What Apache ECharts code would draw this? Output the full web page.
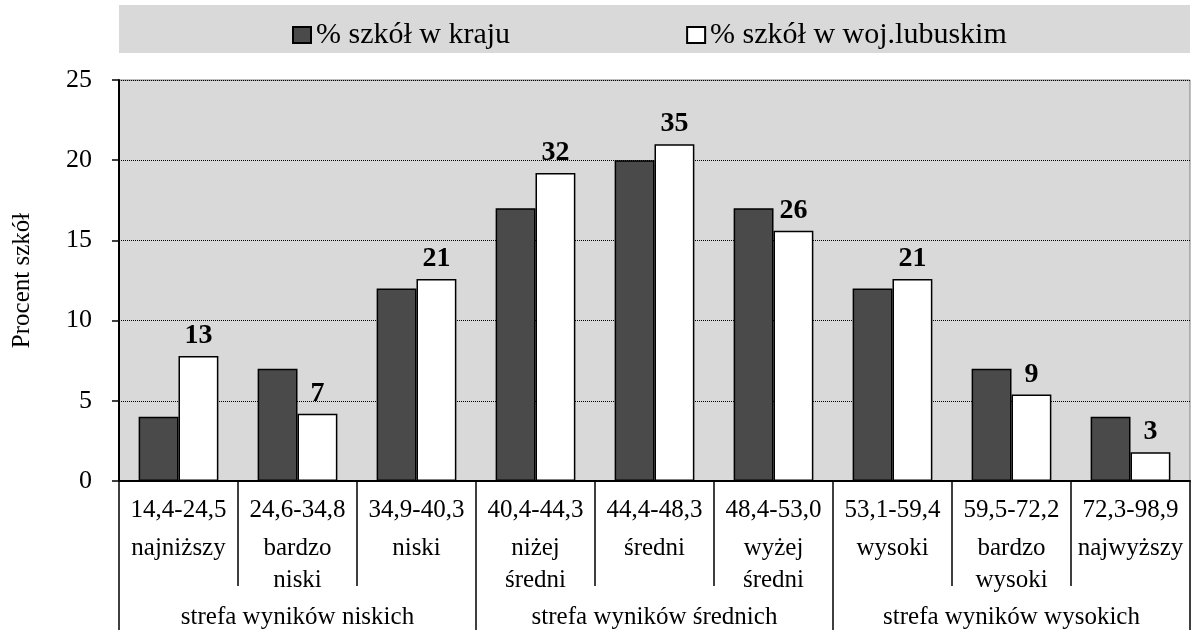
<!DOCTYPE html>
<html>
<head>
<meta charset="utf-8">
<script src="https://cdn.jsdelivr.net/npm/echarts@6/dist/echarts.min.js"></script>
<style>
  html, body { margin: 0; padding: 0; background: #fff; }
  #main { width: 1195px; height: 630px; }
</style>
</head>
<body>
<div id="main"></div>
<script>
// przedziały wyników i nazwy staninów
var ranges = ["14,4-24,5", "24,6-34,8", "34,9-40,3", "40,4-44,3", "44,4-48,3",
  "48,4-53,0", "53,1-59,4", "59,5-72,2", "72,3-98,9"];
var names = ["najniższy", "bardzo\nniski", "niski", "niżej\nśredni", "średni",
  "wyżej\nśredni", "wysoki", "bardzo\nwysoki", "najwyższy"];
var zones = ["strefa wyników niskich", "strefa wyników średnich", "strefa wyników wysokich"];

var kraj = [4, 7, 12, 17, 20, 17, 12, 7, 4];
var lubuskie = [7.8, 4.2, 12.6, 19.2, 21.0, 15.6, 12.6, 5.4, 1.8];
var lubuskieCount = [13, 7, 21, 32, 35, 26, 21, 9, 3];

var yTicks = [0, 5, 10, 15, 20, 25];

var serif = '"Liberation Serif", "Times New Roman", serif';

var myChart = echarts.init(document.getElementById("main"));

var option = {
  animation: false,
  backgroundColor: "#fff",
  textStyle: { fontFamily: serif, color: "#000" },
  graphic: [
    {
      type: "rect",
      z: -10,
      shape: { x: 119, y: 5, width: 1071, height: 48 },
      style: { fill: "#d9d9d9" }
    }
  ],
  legend: {
    left: 287,
    top: 15,
    itemGap: 176,
    itemWidth: 18,
    itemHeight: 16,
    icon: "rect",
    textStyle: { fontFamily: serif, fontSize: 30, color: "#000" },
    data: ["% szkół w kraju", "% szkół w woj.lubuskim"]
  },
  grid: {
    left: 119,
    right: 5,
    top: 80,
    bottom: 149,
    show: true,
    backgroundColor: "#d9d9d9",
    borderColor: "#808080",
    borderWidth: 1
  },
  xAxis: [
    {
      type: "category",
      data: ranges,
      position: "bottom",
      axisLine: { show: true, lineStyle: { color: "#000", width: 2 } },
      axisTick: { show: true, length: 105, interval: 0, lineStyle: { color: "#000", width: 1.5 } },
      axisLabel: {
        interval: 0,
        margin: 7,
        formatter: function (value, idx) {
          var parts = names[idx].split("\n").map(function (s) { return "{n|" + s + "}"; });
          return "{r|" + value + "}\n" + parts.join("\n");
        },
        rich: {
          r: { fontFamily: serif, fontSize: 25, lineHeight: 44, color: "#000" },
          n: { fontFamily: serif, fontSize: 25, lineHeight: 32, color: "#000" }
        }
      },
      splitLine: { show: false }
    },
    {
      type: "category",
      data: zones,
      position: "bottom",
      offset: 105,
      axisLine: { show: false },
      axisTick: { show: true, length: 44, interval: 0, lineStyle: { color: "#000", width: 1.5 } },
      axisLabel: {
        interval: 0,
        margin: 19,
        fontFamily: serif,
        fontSize: 25,
        lineHeight: 25,
        color: "#000"
      }
    }
  ],
  yAxis: {
    type: "value",
    min: 0,
    max: 25,
    interval: 5,
    name: "Procent szkół",
    nameLocation: "middle",
    nameGap: 84,
    nameTextStyle: { fontFamily: serif, fontSize: 25, color: "#000" },
    axisLine: { show: true, lineStyle: { color: "#000", width: 2 } },
    axisTick: { show: true, length: 7, lineStyle: { color: "#000", width: 1.5 } },
    axisLabel: {
      margin: 27,
      fontFamily: serif,
      fontSize: 26,
      color: "#000",
      customValues: yTicks
    },
    splitLine: { show: true, lineStyle: { color: "#000", type: "dotted", width: 1 } }
  },
  series: [
    {
      name: "% szkół w kraju",
      type: "bar",
      data: kraj,
      barGap: "0%",
      barCategoryGap: "33%",
      itemStyle: { color: "#4a4a4a", borderColor: "#000", borderWidth: 1.5 }
    },
    {
      name: "% szkół w woj.lubuskim",
      type: "bar",
      data: lubuskie,
      itemStyle: { color: "#ffffff", borderColor: "#000", borderWidth: 1.5 },
      label: {
        show: true,
        position: "top",
        distance: 6,
        fontFamily: serif,
        fontSize: 28,
        fontWeight: "bold",
        color: "#000",
        formatter: function (p) { return lubuskieCount[p.dataIndex]; }
      }
    }
  ]
};

myChart.setOption(option);
</script>
</body>
</html>
